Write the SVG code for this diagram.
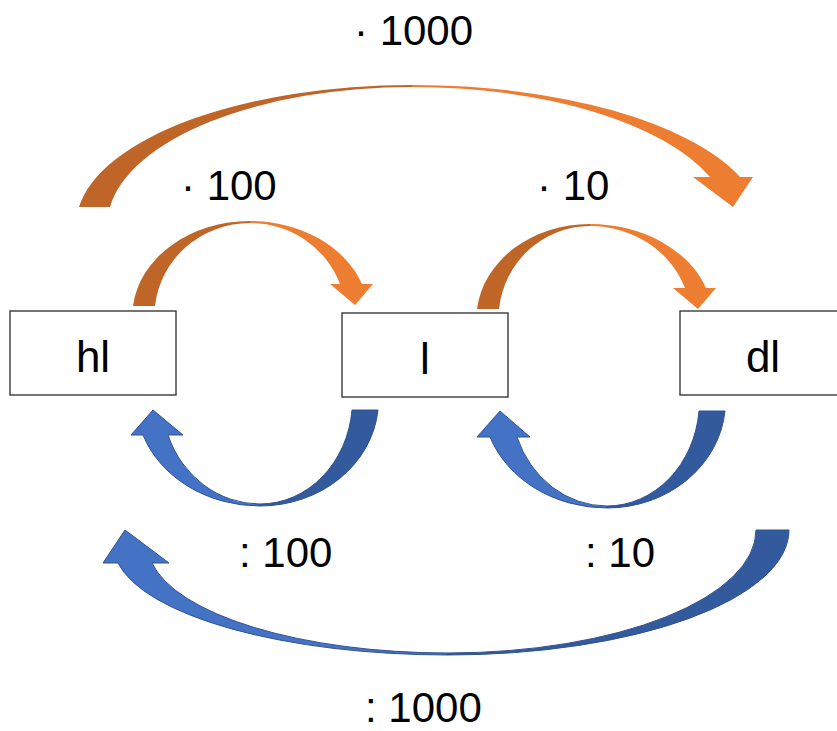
<svg xmlns="http://www.w3.org/2000/svg" width="837" height="731" viewBox="0 0 837 731">
<style>
.box{fill:#ffffff;stroke:#3a3a3a;stroke-width:1.4}
.lbl{font-family:"Liberation Sans",Arial,sans-serif;font-size:42px;fill:#000}
.nl{font-family:"Liberation Sans",Arial,sans-serif;font-size:44px;fill:#000;text-anchor:middle}
.ob{fill:#ED7D31}
.od{fill:#BF6528}
.bb{fill:#4472C4;stroke:#2F528F;stroke-width:1}
.bd{fill:#335A9C;stroke:#2F528F;stroke-width:1}
</style>
<rect width="837" height="731" fill="#ffffff"/>
<g id="connectors">
  <g id="hl-dl-1000">
    <path class="od" d="M79,207 A336,140 0 0 1 412,85 L412,87 A304.6,138 0 0 0 110,207 Z"/>
    <path class="ob" d="M412,85 A349,140 0 0 1 740,177 L753,177 L733,207 L693,177 L710,177 A318,138 0 0 0 412,87 Z"/>
  </g>
  <g id="hl-l-100">
    <path class="od" d="M133,306 A117.7,95 0 0 1 250,221 L250,223 A95.6,93 0 0 0 155,306 Z"/>
    <path class="ob" d="M250,221 A119,95 0 0 1 362,284 L373,284 L355,305 L330,284 L340,284 A95.8,93 0 0 0 250,223 Z"/>
  </g>
  <g id="l-dl-10">
    <path class="od" d="M477,309 A113.6,95 0 0 1 590,224 L590,226 A91.5,93 0 0 0 499,309 Z"/>
    <path class="ob" d="M590,224 A122.7,95 0 0 1 706,288 L716,288 L698,309 L673,288 L685,288 A100.8,93 0 0 0 590,226 Z"/>
  </g>
  <g id="l-hl-100">
    <path class="bb" d="M260,506 A124,106 0 0 1 143,435 L131,435 L153,410 L183,435 L168,435 A97.7,104 0 0 0 260,504 Z"/>
    <path class="bd" d="M378,410 A118.5,106 0 0 1 260,506 L260,504 A92.4,104 0 0 0 352,410 Z"/>
  </g>
  <g id="dl-l-10">
    <path class="bb" d="M607,508 A124.2,107 0 0 1 490,437 L477,437 L500,411 L530,437 L517,437 A95.8,105 0 0 0 607,506 Z"/>
    <path class="bd" d="M725,411 A118.5,107 0 0 1 607,508 L607,506 A92.4,105 0 0 0 699,411 Z"/>
  </g>
  <g id="dl-hl-1000">
    <path class="bb" d="M448,655 A334.5,110 0 0 1 118,563 L103,563 L125,530 L169,563 L152,563 A300.2,108 0 0 0 448,653 Z"/>
    <path class="bd" d="M789,530 A341,125 0 0 1 448,655 L448,653 A308,123 0 0 0 756,530 Z"/>
  </g>
</g>
<g id="labels">
  <text class="lbl" x="354" y="45">· 1000</text>
  <text class="lbl" x="181" y="200">· 100</text>
  <text class="lbl" x="537" y="200">· 10</text>
  <text class="lbl" x="239" y="567">: 100</text>
  <text class="lbl" x="585" y="567">: 10</text>
  <text class="lbl" x="365" y="722">: 1000</text>
</g>
<g id="node-hl">
  <rect class="box" x="10" y="311" width="166" height="84"/>
  <text class="nl" x="93" y="372">hl</text>
</g>
<g id="node-l">
  <rect class="box" x="342" y="313" width="166" height="84"/>
  <text class="nl" x="425" y="374">l</text>
</g>
<g id="node-dl">
  <rect class="box" x="680" y="311" width="167" height="84"/>
  <text class="nl" x="763" y="372">dl</text>
</g>
</svg>
